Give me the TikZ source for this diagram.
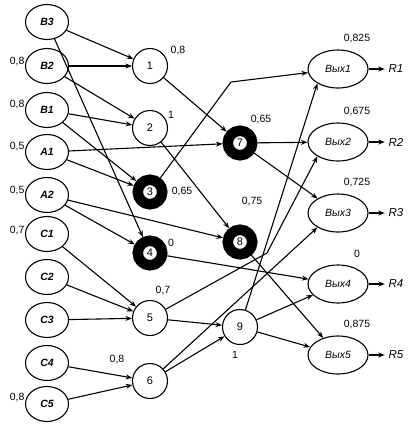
\documentclass[tikz,border=0pt]{standalone}
\usepackage{fontspec}
\setmainfont{Liberation Sans}
\usetikzlibrary{arrows.meta,shapes.geometric}

\begin{document}
\begin{tikzpicture}[x=1pt,y=-1pt,font=\fontsize{10.5}{12}\selectfont,line width=1.1pt,
 inp/.style={draw,ellipse,minimum width=43pt,minimum height=35pt,inner sep=0pt,font=\fontsize{10.5}{12}\selectfont\bfseries\itshape},
 mid/.style={draw,circle,minimum size=35pt,inner sep=0pt,font=\fontsize{11}{12}\selectfont},
 blk/.style={draw,circle,line width=10.5pt,minimum size=24.5pt,inner sep=0pt,fill=white,font=\fontsize{11}{12}\selectfont},
 vyh/.style={draw,ellipse,minimum width=60pt,minimum height=38pt,inner sep=0pt,font=\fontsize{10.5}{12}\selectfont\itshape},
 val/.style={inner sep=0pt},
 arr/.style={-{Stealth[length=6.5pt,width=5pt]}}]
\useasboundingbox (0,0) rectangle (408,426);
\foreach \n/\y in {B3/22,B2/66,B1/110,A1/152,A2/195,C1/234,C2/277,C3/320,C4/363,C5/404}
 \node[inp] (\n) at (47,\y) {\n};
\node[mid] (n1) at (150,66) {1};
\node[mid] (n2) at (150,128) {2};
\node[blk] (n3) at (150,192) {3};
\node[blk] (n4) at (150,253) {4};
\node[mid] (n5) at (150,318) {5};
\node[mid] (n6) at (150,381) {6};
\node[blk] (n7) at (240,143) {7};
\node[blk] (n8) at (240,242) {8};
\node[mid] (n9) at (240,327) {9};
\foreach \i/\y/\v in {1/69/0{,}825,2/142/0{,}675,3/213/0{,}725,4/284/0,5/355/0{,}875}{
 \node[vyh] (v\i) at (338,\y) {Вых\i};
 \node[val] (w\i) at (357,\y-30) {\v};
 \node[font=\fontsize{11.5}{13}\selectfont\itshape] (r\i) at (396,\y) {R\i};
 \draw[arr] (v\i) -- (r\i);
}
\foreach \n/\y/\v in {B2/62/0{,}8,B1/105/0{,}8,A1/147/0{,}5,A2/191/0{,}5,C1/231/0{,}7,C5/398/0{,}8}
 \node[val,anchor=east] (l\n) at (25,\y) {\v};
\node[val] (l1) at (178,51) {0,8};
\node[val] (l2) at (171,115) {1};
\node[val] (l3) at (182,192) {0,65};
\node[val] (l4) at (171,243) {0};
\node[val] (l5) at (163,291) {0,7};
\node[val] (l6) at (117,360) {0,8};
\node[val] (l7) at (261,120) {0,65};
\node[val] (l8) at (252,202) {0,75};
\node[val] (l9) at (235,355) {1};
\foreach \a/\b in {B3/n1,B2/n1,B2/n2,B1/n2,B1/n3,A1/n3,B3/n4,A2/n4,A1/n7,A2/n8,
 C1/n5,C2/n5,C3/n5,C4/n6,C5/n6,n1/n7,n2/n8,n5/n9,n6/n9,n4/v4,n7/v2,n7/v3,n8/v5,n9/v4,n9/v5}
 \draw[arr] (\a) -- (\b);
\draw[arr] (n6) -- (v3.215);
\draw[arr] (n9) -- (v1.215);
\coordinate (k3) at (231,82);
\coordinate (k5) at (267,253);
\draw[arr] (n3) -- (k3) -- (v1);
\draw[arr] (n5) -- (k5) -- (v2.215);
\end{tikzpicture}
\end{document}
